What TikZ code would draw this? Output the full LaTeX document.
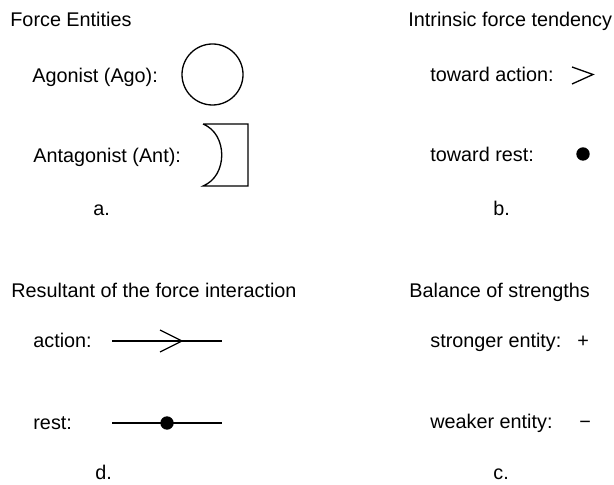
\documentclass[tikz,border=0pt]{standalone}
\usepackage{fontspec}
\setmainfont{Liberation Sans}
\usepackage{tikz}
\usetikzlibrary{positioning}

\begin{document}
\begin{tikzpicture}[
        x=0.5pt, y=-0.5pt,
        txt/.style={anchor=base west, inner sep=0pt, font=\fontsize{9.9}{12}\selectfont},
        sym/.style={draw, line width=0.65pt},
        fdot/.style={circle, fill=black, minimum size=6.7pt, inner sep=0pt}
    ]
        \useasboundingbox (0,0) rectangle (614,485);

        % a. Force entities
        \node[txt] (FE) at (10,27) {Force Entities};
        \node[txt] (AGO) at (32,83) {Agonist (Ago):};
        \node[sym, circle, minimum size=30.5pt, inner sep=0pt] (AGOs) at (212.5,74.5) {};
        \node[txt] (ANT) at (33,163) {Antagonist (Ant):};
        \coordinate (ANTtl) at (203,124);
        \coordinate (ANTbl) at (203,186);
        \draw[sym] (ANTtl) -- (248,124) -- (248,186) -- (ANTbl)
            .. controls (228,176) and (228,134) .. (ANTtl);
        \node[txt] (LA) at (93,216) {a.};

        % b. Intrinsic force tendency
        \node[txt] (IFT) at (408,27) {Intrinsic force tendency};
        \node[txt] (TAC) at (430,82) {toward action:};
        \coordinate (TACs) at (583,74.5);
        \draw[sym, line join=miter] ([xshift=-5.5]TACs |- 0,67) -- ([xshift=5]TACs) -- ([xshift=-5.5]TACs |- 0,84);
        \node[txt] (TRS) at (430,162) {toward rest:};
        \node[fdot] (TRSs) at (583,154) {};
        \node[txt] (LB) at (493,216) {b.};

        % d. Resultant
        \node[txt] (RES) at (11,298) {Resultant of the force interaction};
        \node[txt] (ACT) at (33,348) {action:};
        \coordinate (ACTa) at (112,341);
        \coordinate (ACTb) at (222,341);
        \coordinate (ACTtip) at (182,341);
        \draw[sym] (ACTa) -- (ACTb);
        \draw[sym, line join=miter] ([shift={(-22,-11)}]ACTtip) -- (ACTtip) -- ([shift={(-22,11)}]ACTtip);
        \node[txt] (RST) at (33,429) {rest:};
        \coordinate (RSTa) at (112,423);
        \coordinate (RSTb) at (222,423);
        \draw[sym] (RSTa) -- (RSTb);
        \node[fdot] (RSTs) at (167,423) {};
        \node[txt] (LD) at (95,479) {d.};

        % c. Balance of strengths
        \node[txt] (BAL) at (409,298) {Balance of strengths};
        \node[txt] (STR) at (430,348) {stronger entity:};
        \node[txt] (STRs) at (577,348) {+};
        \node[txt] (WEA) at (430,428) {weaker entity:};
        \node[txt] (WEAs) at (579,428) {−};
        \node[txt] (LC) at (493,479) {c.};

    \end{tikzpicture}
\end{document}
